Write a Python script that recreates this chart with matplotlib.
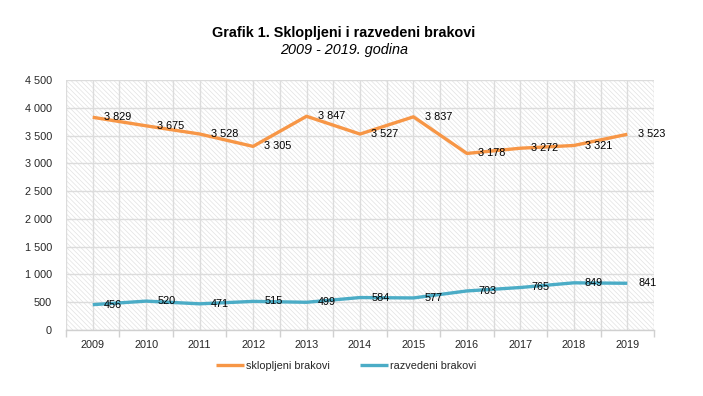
import matplotlib
matplotlib.use("Agg")
import matplotlib.pyplot as plt
from matplotlib.patches import Rectangle
import numpy as np

years = ["2009", "2010", "2011", "2012", "2013", "2014", "2015", "2016", "2017", "2018", "2019"]
sklopljeni = [3829, 3675, 3528, 3305, 3847, 3527, 3837, 3178, 3272, 3321, 3523]
razvedeni = [456, 520, 471, 515, 499, 584, 577, 703, 765, 849, 841]
yticks = [0, 500, 1000, 1500, 2000, 2500, 3000, 3500, 4000, 4500]

def fmt(v):
    return f"{v:,}".replace(",", " ")

plt.rcParams['font.family'] = ['Liberation Sans', 'DejaVu Sans']
plt.rcParams['hatch.linewidth'] = 0.5

W, H = 703, 396
fig = plt.figure(figsize=(W / 100, H / 100), dpi=100)
ax = fig.add_axes([66 / W, 1 - 330 / H, (654 - 66) / W, (330 - 80) / H])

x = np.arange(len(years))
bg = Rectangle((0, 0), 1, 1, transform=ax.transAxes, facecolor='white',
               edgecolor='#e2e2e2', hatch='\\\\\\\\\\\\\\', lw=0, zorder=0)
ax.add_patch(bg)

orange = '#F79646'
blue = '#4BACC6'
ax.plot(x, sklopljeni, color=orange, lw=2.4, zorder=3, label='sklopljeni brakovi', solid_capstyle='butt')
ax.plot(x, razvedeni, color=blue, lw=2.4, zorder=3, label='razvedeni brakovi', solid_capstyle='butt')

for xi, v in zip(x, sklopljeni):
    ax.annotate(fmt(v), (xi, v), xytext=(8, 0), textcoords='offset points',
                ha='left', va='center', fontsize=7.8, color='black', zorder=4)
for xi, v in zip(x, razvedeni):
    ax.annotate(fmt(v), (xi, v), xytext=(8, 0), textcoords='offset points',
                ha='left', va='center', fontsize=7.8, color='black', zorder=4)

ax.set_xlim(-0.5, len(years) - 0.5)
ax.set_ylim(0, 4500)
ax.set_yticks(yticks)
ax.set_yticklabels([fmt(v) for v in yticks])
ax.set_xticks(x)
ax.set_xticklabels(years)
ax.set_xticks(np.arange(-0.5, len(years), 1.0), minor=True)

ax.grid(True, which='both', axis='x', color='#dcdcdc', lw=1.0, zorder=1)
ax.grid(True, which='major', axis='y', color='#dcdcdc', lw=1.0, zorder=1)
ax.set_axisbelow(True)

for s in ['top', 'right', 'left']:
    ax.spines[s].set_visible(False)
ax.spines['bottom'].set_color('#d0d0d0')
ax.spines['bottom'].set_linewidth(1.0)

ax.tick_params(axis='x', which='major', length=0, pad=7, labelsize=7.8, labelcolor='#262626')
ax.tick_params(axis='x', which='minor', length=5, color='#d0d0d0', width=1.0)
ax.tick_params(axis='y', which='major', length=0, pad=10, labelsize=7.8, labelcolor='#262626')

fig.text(344 / W, 1 - 33 / H, 'Grafik 1. Sklopljeni i razvedeni brakovi', ha='center', va='center',
         fontsize=10.4, fontweight='bold', color='black')
fig.text(344 / W, 1 - 50 / H, '2009 - 2019. godina', ha='center', va='center',
         fontsize=10.4, fontstyle='italic', color='black')

leg = fig.legend(loc='center', bbox_to_anchor=(346 / W, 1 - 366 / H), ncol=2, frameon=False,
                 fontsize=7.8, handlelength=2.6, handletextpad=0.15, columnspacing=2.8)
for t in leg.get_texts():
    t.set_color('#262626')

fig.savefig('out.png', dpi=100)
